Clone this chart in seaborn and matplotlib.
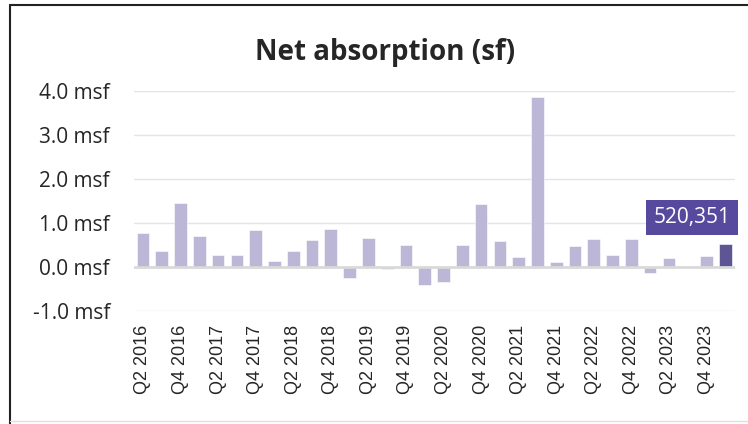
import pandas as pd
import matplotlib.pyplot as plt
import seaborn as sns

quarters = [f'Q{q} {y}' for y in range(2016, 2025) for q in range(1, 5)][1:33]
absorption_msf = [0.77, 0.36, 1.45, 0.71, 0.27, 0.27, 0.83, 0.14,
                  0.36, 0.61, 0.86, -0.26, 0.66, -0.05, 0.51, -0.42,
                  -0.35, 0.51, 1.44, 0.60, 0.22, 3.87, 0.12, 0.47,
                  0.64, 0.27, 0.63, -0.13, 0.20, 0.01, 0.26, 0.520351]
y_ticks = [-1.0, 0.0, 1.0, 2.0, 3.0, 4.0]
callout = '520,351'

light = '#B8B2DC'
dark = '#574A9E'

df = pd.DataFrame({'quarter': quarters, 'msf': absorption_msf})
colors = [light] * (len(df) - 1) + [dark]

sns.set_style('white')
plt.rcParams['font.family'] = ['Open Sans', 'DejaVu Sans']

fig = plt.figure(figsize=(7.48, 4.24), dpi=100)
ax = fig.add_axes([0.1786, 0.2665, 0.8036, 0.5189])

sns.barplot(data=df, x='quarter', y='msf', hue='quarter', palette=colors,
            legend=False, width=0.675, edgecolor='white', linewidth=0.4, ax=ax)

ax.set_xlim(-0.5, len(df) - 0.5)
ax.set_ylim(-1.0, 4.0)
ax.set_yticks(y_ticks)
ax.set_yticklabels([f'{v:.1f} msf' for v in y_ticks], fontsize=15)
ax.tick_params(axis='y', length=0, pad=17)
for v in y_ticks:
    if v == 0:
        ax.axhline(v, color='#D9D9D9', lw=2, zorder=3)
    else:
        ax.axhline(v, color='#E4E4E4', lw=1, zorder=0)

ax.set_xticks(range(0, len(df), 2))
ax.set_xticklabels(quarters[::2], rotation=90, fontsize=13,
                   family='Liberation Sans')
ax.tick_params(axis='x', length=0, pad=10)
ax.set_xlabel('')
ax.set_ylabel('')
sns.despine(ax=ax, left=True, bottom=True)

ax.text(29.23, 1.125, callout, ha='center', va='center', fontsize=15,
        color='white', clip_on=False,
        bbox=dict(boxstyle='square,pad=0.35', fc=dark, ec='none'))

fig.text(0.515, 0.877, 'Net absorption (sf)', ha='center', va='center',
         fontsize=20, fontweight='bold')

# frame around the chart
fig.add_artist(plt.Line2D([10 / 748, 10 / 748], [0, 1 - 5 / 424],
                          transform=fig.transFigure, color='#222222', lw=1.5))
fig.add_artist(plt.Line2D([10 / 748, 1], [1 - 5 / 424, 1 - 5 / 424],
                          transform=fig.transFigure, color='#222222', lw=1.5))
fig.add_artist(plt.Line2D([10 / 748, 1], [3 / 424, 3 / 424],
                          transform=fig.transFigure, color='#E0E0E0', lw=1))

fig.savefig('out.png', dpi=100)
